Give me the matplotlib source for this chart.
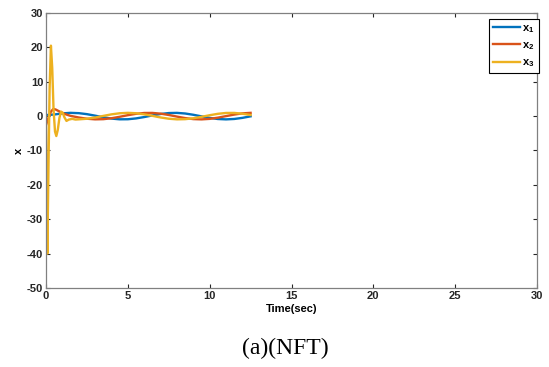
import matplotlib
matplotlib.use('Agg')
import matplotlib.pyplot as plt

# values (time in sec)
t1 = [0.0, 0.5, 1.0, 1.5, 2.0, 2.5, 3.0, 3.5, 4.0, 4.5, 5.0, 5.5, 6.0, 6.5,
      7.0, 7.5, 8.0, 8.5, 9.0, 9.5, 10.0, 10.5, 11.0, 11.5, 12.0, 12.5]
x1 = [0.3, 0.46, 0.8, 0.95, 0.86, 0.57, 0.13, -0.33, -0.72, -0.93, -0.91, -0.67, -0.27, 0.2,
      0.62, 0.89, 0.94, 0.76, 0.39, -0.07, -0.52, -0.84, -0.95, -0.83, -0.51, -0.06]

t2 = [0.0, 0.15, 0.3, 0.45, 0.6, 0.8, 1.0, 1.25, 1.5, 2.0, 2.5, 3.0, 3.5, 4.0, 4.5,
      5.0, 5.5, 6.0, 6.5, 7.0, 7.5, 8.0, 8.5, 9.0, 9.5, 10.0, 10.5, 11.0, 11.5, 12.0, 12.5]
x2 = [-2.6, -0.5, 1.3, 2.1, 1.9, 1.4, 0.9, 0.45, 0.07, -0.4, -0.76, -0.94, -0.89, -0.62, -0.2,
      0.27, 0.67, 0.91, 0.93, 0.72, 0.33, -0.14, -0.57, -0.87, -0.95, -0.8, -0.45, 0.0, 0.45, 0.8, 0.95]

t3 = [0.0, 0.03, 0.08, 0.15, 0.22, 0.3, 0.38, 0.46, 0.55, 0.63, 0.72, 0.82, 0.92, 1.02,
      1.12, 1.25, 1.4, 1.6, 1.8, 2.0, 2.5, 3.0, 3.5, 4.0, 4.5, 5.0, 5.5, 6.0, 6.5, 7.0,
      7.5, 8.0, 8.5, 9.0, 9.5, 10.0, 10.5, 11.0, 11.5, 12.0, 12.5]
x3 = [0.0, -20.0, -40.0, -15.0, 8.0, 20.5, 14.0, 2.0, -4.5, -5.8, -4.0, -0.5, 1.3, 1.0,
      -0.3, -1.4, -1.0, -0.8, -1.0, -0.94, -0.77, -0.41, 0.06, 0.51, 0.83, 0.95, 0.84, 0.52, 0.08, -0.39,
      -0.76, -0.94, -0.89, -0.63, -0.21, 0.26, 0.67, 0.92, 0.93, 0.7, 0.32]

labels = [r'$\mathbf{x_1}$', r'$\mathbf{x_2}$', r'$\mathbf{x_3}$']
colors = ['#0072BD', '#D95319', '#EDB120']

plt.rcParams['font.family'] = 'Liberation Sans'
plt.rcParams['axes.unicode_minus'] = False
plt.rcParams['mathtext.fontset'] = 'custom'
plt.rcParams['mathtext.bf'] = 'Liberation Sans:bold'
plt.rcParams['mathtext.rm'] = 'Liberation Sans'

fig = plt.figure(figsize=(5.49, 3.67), dpi=100)
ax = fig.add_axes([0.0838, 0.2153, 0.8944, 0.7493])

ax.plot(t1, x1, color=colors[0], lw=1.7, label=labels[0])
ax.plot(t2, x2, color=colors[1], lw=1.7, label=labels[1])
ax.plot(t3, x3, color=colors[2], lw=1.7, label=labels[2])

ax.set_xlim(0, 30)
ax.set_ylim(-50, 30)
ax.set_xticks(range(0, 31, 5))
ax.set_yticks(range(-50, 31, 10))
ax.tick_params(direction='in', top=True, right=True, length=3, width=0.8,
               labelsize=8, colors='#262626', pad=2)
for lab in ax.get_xticklabels() + ax.get_yticklabels():
    lab.set_fontweight('bold')
for sp in ax.spines.values():
    sp.set_color('#808080')
    sp.set_linewidth(0.9)

ax.set_xlabel('Time(sec)', fontsize=8, fontweight='bold', labelpad=2)
ax.set_ylabel('x', fontsize=8, fontweight='bold', labelpad=2)

leg = ax.legend(loc='upper right', bbox_to_anchor=(1.003, 0.978), borderaxespad=0,
                fontsize=8, handlelength=2.4, handletextpad=0.2, labelspacing=0.5,
                borderpad=0.35, fancybox=False, framealpha=1, edgecolor='black')
leg.get_frame().set_linewidth(0.8)

fig.text(0.52, 0.05, '(a)(NFT)', family='Liberation Serif', fontsize=17,
         ha='center', va='center')

fig.savefig('out.png', dpi=100)
